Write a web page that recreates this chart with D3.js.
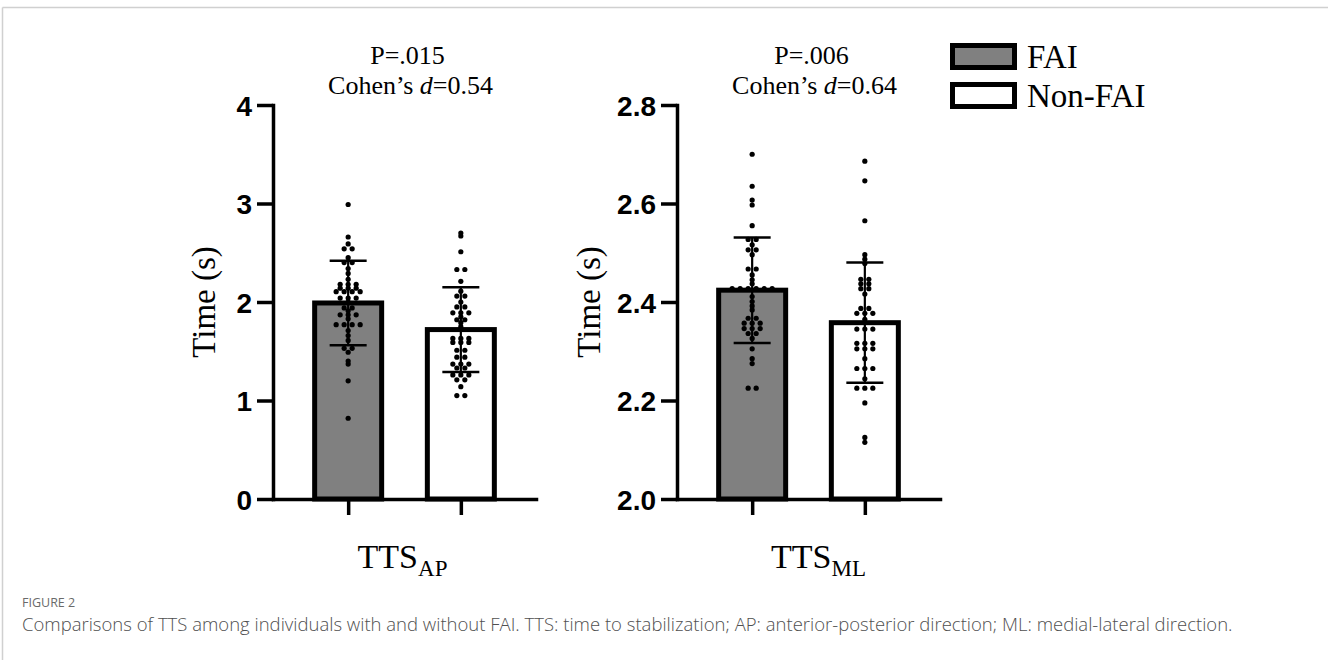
<!DOCTYPE html>
<html>
<head>
<meta charset="utf-8">
<script src="https://cdn.jsdelivr.net/npm/d3@7"></script>
<style>
  html, body { margin: 0; padding: 0; background: #fff; }
  svg { display: block; }
</style>
</head>
<body>
<svg id="chart" width="1328" height="660"></svg>
<script>
// ---------------- data ----------------
const groups = ["FAI", "Non-FAI"];
const groupFills = ["#808080", "#ffffff"];

// TTS anterior-posterior (s)
const apFAI = [2.99, 2.66, 2.59, 2.54, 2.54, 2.45, 2.40, 2.40, 2.34, 2.29, 2.23,
  2.18, 2.18, 2.18, 2.14, 2.14, 2.14, 2.105, 2.105, 2.105, 2.105, 2.04, 2.04, 2.04,
  2.00, 1.94, 1.94, 1.91, 1.87, 1.87, 1.87, 1.83, 1.77, 1.77, 1.77, 1.77,
  1.71, 1.66, 1.61, 1.53, 1.53, 1.49, 1.40, 1.37, 1.20, 0.82];
const apNonFAI = [2.70, 2.67, 2.51, 2.33, 2.33, 2.21, 2.11, 2.06, 2.06, 2.00,
  1.95, 1.95, 1.89, 1.89, 1.89, 1.85, 1.82, 1.82, 1.79, 1.75,
  1.63, 1.63, 1.63, 1.59, 1.59, 1.59, 1.51, 1.51, 1.44, 1.44,
  1.37, 1.37, 1.37, 1.33, 1.33, 1.26, 1.26, 1.26, 1.21, 1.21, 1.14, 1.05, 1.05];
const apMeans = [1.99, 1.72];
const apSDs = [0.43, 0.43];

// TTS medial-lateral (s)
const mlFAI = [2.70, 2.635, 2.607, 2.597, 2.555, 2.527, 2.527, 2.516, 2.506, 2.506,
  2.496, 2.467, 2.467, 2.455, 2.445, 2.437, 2.427, 2.427, 2.427, 2.427, 2.427, 2.427,
  2.411, 2.401, 2.392, 2.384, 2.367, 2.367, 2.357, 2.357, 2.357, 2.346, 2.346, 2.346,
  2.336, 2.336, 2.326, 2.305, 2.285, 2.275, 2.225, 2.225];
const mlNonFAI = [2.686, 2.646, 2.565, 2.496, 2.487, 2.478, 2.446, 2.446, 2.437, 2.437,
  2.427, 2.427, 2.416, 2.387, 2.387, 2.377, 2.377, 2.377, 2.365, 2.345, 2.345, 2.345,
  2.316, 2.316, 2.316, 2.305, 2.305, 2.305, 2.285, 2.265, 2.265, 2.265, 2.244,
  2.225, 2.225, 2.225, 2.195, 2.125, 2.115];
const mlMeans = [2.424, 2.358];
const mlSDs = [0.107, 0.122];

const apTicks = [0, 1, 2, 3, 4];
const mlTicks = [2.0, 2.2, 2.4, 2.6, 2.8];
const pLabels = ["P=.015", "P=.006"];
const cohenD = ["0.54", "0.64"];
const axisSubs = ["AP", "ML"];
const yTitle = "Time (s)";
const figureLabel = "FIGURE 2";
const captionText = "Comparisons of TTS among individuals with and without FAI. TTS: time to stabilization; AP: anterior-posterior direction; ML: medial-lateral direction.";

// ---------------- layout ----------------
const svg = d3.select("#chart");
const serif = "'Liberation Serif','Times New Roman',serif";
const sans = "'Liberation Sans',Arial,sans-serif";

// figure frame
svg.append("line").attr("x1", 2.5).attr("x2", 1328).attr("y1", 7.5).attr("y2", 7.5)
  .attr("stroke", "#d0d0d0").attr("stroke-width", 1.5);
svg.append("line").attr("x1", 2.5).attr("x2", 2.5).attr("y1", 7.5).attr("y2", 660)
  .attr("stroke", "#d0d0d0").attr("stroke-width", 1.5);

const panels = [
  { x0: 273, x1: 536, domain: [0, 4], ticks: apTicks, fmt: d3.format("d"),
    series: [apFAI, apNonFAI], means: apMeans, sds: apSDs, titleDx: -70, labelDx: -2 },
  { x0: 677, x1: 940, domain: [2.0, 2.8], ticks: mlTicks, fmt: d3.format(".1f"),
    series: [mlFAI, mlNonFAI], means: mlMeans, sds: mlSDs, titleDx: -89, labelDx: 10 }
];
const yBottom = 499, yTop = 105;
const barW = 67, barStroke = 5;

function swarm(values, y, cx, spacing) {
  const pts = values.map(v => ({ v, y: y(v) })).sort((a, b) => a.y - b.y);
  const rows = [];
  pts.forEach(p => {
    const r = rows[rows.length - 1];
    if (r && Math.abs(p.y - r[0].y) < 1.5) r.push(p); else rows.push([p]);
  });
  rows.forEach(r => r.forEach((p, i) => { p.x = cx + (i - (r.length - 1) / 2) * spacing; }));
  return pts;
}

panels.forEach((P, pi) => {
  const y = d3.scaleLinear().domain(P.domain).range([yBottom, yTop]);
  const x = d3.scalePoint().domain(groups).range([P.x0, P.x1]).padding(0.667);
  const g = svg.append("g");

  // bars
  g.selectAll("rect.bar").data(groups).join("rect")
    .attr("class", "bar")
    .attr("x", d => x(d) - barW / 2)
    .attr("width", barW)
    .attr("y", (d, i) => y(P.means[i]))
    .attr("height", (d, i) => yBottom - y(P.means[i]))
    .attr("fill", (d, i) => groupFills[i])
    .attr("stroke", "#000").attr("stroke-width", barStroke);

  // dots
  groups.forEach((grp, gi) => {
    const pts = swarm(P.series[gi], y, x(grp), 8);
    g.append("g").selectAll("circle").data(pts).join("circle")
      .attr("cx", d => d.x).attr("cy", d => d.y).attr("r", 2.6).attr("fill", "#000");
  });

  // error bars
  groups.forEach((grp, gi) => {
    const cx = x(grp), m = P.means[gi], s = P.sds[gi];
    const eg = g.append("g").attr("stroke", "#000");
    eg.append("line").attr("x1", cx).attr("x2", cx).attr("y1", y(m + s)).attr("y2", y(m - s)).attr("stroke-width", 2.2);
    [m + s, m - s].forEach(v => eg.append("line").attr("x1", cx - 18.5).attr("x2", cx + 18.5)
      .attr("y1", y(v)).attr("y2", y(v)).attr("stroke-width", 2.5));
  });

  // y axis
  const ya = g.append("g").attr("transform", `translate(${P.x0},0)`)
    .call(d3.axisLeft(y).tickValues(P.ticks).tickFormat(P.fmt).tickSizeInner(16).tickSizeOuter(0).tickPadding(5));
  ya.select(".domain").attr("stroke-width", 3.5).attr("stroke-linecap", "square");
  ya.selectAll(".tick line").attr("stroke-width", 3.5);
  ya.selectAll(".tick text").attr("font-family", sans).attr("font-weight", "bold")
    .attr("font-size", 28).attr("fill", "#000").attr("dy", "0.36em");

  // x axis
  const xa = g.append("g").attr("transform", `translate(0,${yBottom})`)
    .call(d3.axisBottom(x).tickSizeInner(16).tickSizeOuter(0).tickFormat(""));
  xa.select(".domain").attr("stroke-width", 3.5).attr("stroke-linecap", "square");
  xa.selectAll(".tick line").attr("stroke-width", 3.5);

  // y title
  g.append("text")
    .attr("transform", `translate(${P.x0 + P.titleDx},${(yTop + yBottom) / 2}) rotate(-90)`)
    .attr("text-anchor", "middle").attr("dy", "0.35em")
    .attr("font-family", serif).attr("font-size", 33).text(yTitle);

  // stats title
  const mid = (x(groups[0]) + x(groups[1])) / 2;
  g.append("text").attr("x", mid + 3).attr("y", 64).attr("text-anchor", "middle")
    .attr("font-family", serif).attr("font-size", 26).text(pLabels[pi]);
  const ct = g.append("text").attr("x", mid + 6).attr("y", 94).attr("text-anchor", "middle")
    .attr("font-family", serif).attr("font-size", 26);
  ct.append("tspan").text("Cohen\u2019s ");
  ct.append("tspan").attr("font-style", "italic").text("d");
  ct.append("tspan").text("=" + cohenD[pi]);

  // category label with subscript
  const lt = g.append("text").attr("x", mid + P.labelDx).attr("y", 568).attr("text-anchor", "middle")
    .attr("font-family", serif).attr("font-size", 34);
  lt.append("tspan").text("TTS");
  lt.append("tspan").attr("font-size", 23).attr("dy", 8).text(axisSubs[pi]);
});

// legend
const leg = svg.append("g");
groups.forEach((grp, i) => {
  leg.append("rect").attr("x", 952.5).attr("y", 45.5 + i * 39).attr("width", 62).attr("height", 22)
    .attr("fill", groupFills[i]).attr("stroke", "#000").attr("stroke-width", 5);
  leg.append("text").attr("x", 1027).attr("y", 68 + i * 39)
    .attr("font-family", serif).attr("font-size", 33).text(grp);
});

// caption
svg.append("text").attr("x", 22).attr("y", 607).attr("font-family", "'Open Sans',sans-serif")
  .attr("font-size", 12.5).attr("fill", "#6a6a6a").text(figureLabel);
svg.append("text").attr("x", 22).attr("y", 631).attr("font-family", "'Open Sans',sans-serif")
  .attr("font-weight", 300).attr("font-size", 18.5).attr("fill", "#505050").text(captionText);
</script>
</body>
</html>
